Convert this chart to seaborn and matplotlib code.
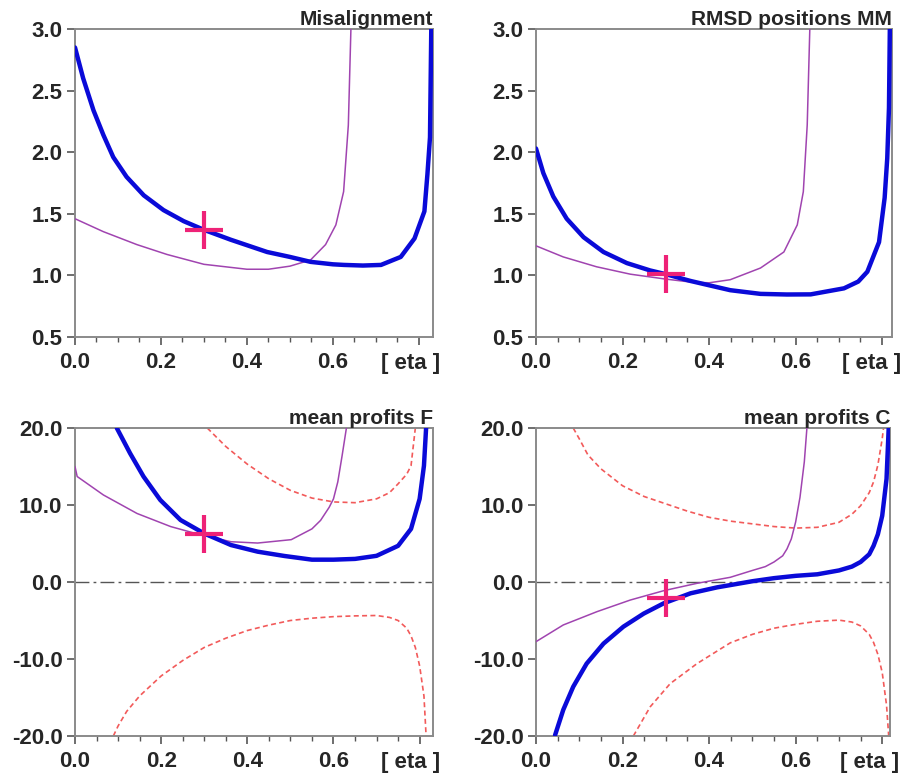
import matplotlib
matplotlib.use("Agg")
import matplotlib.pyplot as plt
import seaborn as sns
import pandas as pd
from matplotlib.ticker import MultipleLocator, FixedLocator, FixedFormatter, FormatStrFormatter

# ---- values ----------------------------------------------------------------
# panel 1: Misalignment
mis_blue_x = [0.0, 0.019, 0.043, 0.066, 0.089, 0.12, 0.16, 0.206, 0.253, 0.3, 0.362, 0.447, 0.5, 0.548, 0.6, 0.626, 0.67, 0.712, 0.758, 0.79, 0.813, 0.82, 0.826, 0.829]
mis_blue_y = [2.85, 2.60, 2.34, 2.14, 1.96, 1.80, 1.65, 1.53, 1.44, 1.37, 1.29, 1.19, 1.15, 1.11, 1.09, 1.085, 1.08, 1.085, 1.15, 1.30, 1.52, 1.82, 2.12, 3.0]
mis_purple_x = [0.0, 0.066, 0.144, 0.214, 0.3, 0.4, 0.45, 0.5, 0.548, 0.583, 0.607, 0.625, 0.636, 0.642]
mis_purple_y = [1.46, 1.355, 1.25, 1.17, 1.09, 1.05, 1.05, 1.075, 1.125, 1.25, 1.41, 1.68, 2.22, 3.0]

# panel 2: RMSD positions MM
rmsd_blue_x = [0.0, 0.017, 0.040, 0.071, 0.110, 0.156, 0.210, 0.264, 0.3, 0.357, 0.449, 0.519, 0.58, 0.635, 0.712, 0.745, 0.766, 0.793, 0.806, 0.812, 0.816, 0.818]
rmsd_blue_y = [2.03, 1.83, 1.64, 1.46, 1.31, 1.19, 1.10, 1.04, 1.01, 0.955, 0.88, 0.85, 0.845, 0.846, 0.895, 0.95, 1.03, 1.27, 1.63, 1.95, 2.36, 3.0]
rmsd_purple_x = [0.0, 0.063, 0.14, 0.218, 0.3, 0.36, 0.4, 0.449, 0.519, 0.573, 0.604, 0.618, 0.627, 0.633]
rmsd_purple_y = [1.24, 1.15, 1.07, 1.01, 0.97, 0.945, 0.94, 0.965, 1.06, 1.19, 1.41, 1.68, 2.22, 3.0]

# panel 3: mean profits F
pf_blue_x = [0.097, 0.128, 0.159, 0.198, 0.245, 0.3, 0.362, 0.424, 0.486, 0.55, 0.6, 0.65, 0.7, 0.75, 0.78, 0.8, 0.81, 0.815]
pf_blue_y = [20.0, 16.7, 13.7, 10.65, 8.05, 6.3, 4.8, 3.94, 3.38, 2.9, 2.9, 3.0, 3.4, 4.7, 6.9, 10.8, 15.1, 20.0]
pf_purple_x = [0.0, 0.005, 0.066, 0.144, 0.222, 0.284, 0.362, 0.424, 0.502, 0.55, 0.57, 0.59, 0.6, 0.61, 0.62, 0.63]
pf_purple_y = [15.0, 13.7, 11.3, 8.9, 7.2, 6.24, 5.23, 5.06, 5.5, 6.9, 8.0, 9.7, 10.8, 13.0, 16.4, 20.0]
pf_up_x = [0.307, 0.35, 0.4, 0.45, 0.5, 0.55, 0.6, 0.65, 0.7, 0.73, 0.75, 0.77, 0.78, 0.79]
pf_up_y = [20.0, 17.6, 15.3, 13.4, 11.9, 10.9, 10.4, 10.3, 10.8, 11.6, 12.75, 14.0, 15.1, 20.0]
pf_lo_x = [0.089, 0.1, 0.12, 0.15, 0.2, 0.25, 0.3, 0.35, 0.4, 0.45, 0.5, 0.55, 0.6, 0.65, 0.7, 0.73, 0.75, 0.77, 0.78, 0.79, 0.8, 0.81, 0.815]
pf_lo_y = [-20.0, -18.7, -16.8, -14.8, -12.2, -10.2, -8.5, -7.3, -6.3, -5.6, -5.0, -4.7, -4.5, -4.4, -4.35, -4.6, -5.0, -6.0, -7.0, -8.5, -10.9, -14.8, -20.0]

# panel 4: mean profits C
pc_blue_x = [0.044, 0.063, 0.086, 0.117, 0.156, 0.202, 0.249, 0.295, 0.357, 0.419, 0.45, 0.5, 0.55, 0.6, 0.65, 0.7, 0.73, 0.75, 0.77, 0.78, 0.79, 0.8, 0.81, 0.815]
pc_blue_y = [-19.9, -16.6, -13.6, -10.6, -8.0, -5.8, -4.1, -2.77, -1.47, -0.69, -0.39, 0.1, 0.5, 0.8, 1.0, 1.5, 2.0, 2.6, 3.6, 4.7, 6.2, 8.6, 13.4, 20.0]
pc_purple_x = [0.0, 0.063, 0.141, 0.218, 0.295, 0.372, 0.449, 0.5, 0.53, 0.55, 0.57, 0.58, 0.59, 0.6, 0.61, 0.62, 0.626]
pc_purple_y = [-7.75, -5.58, -3.85, -2.34, -1.13, -0.17, 0.61, 1.5, 2.0, 2.6, 3.4, 4.3, 5.6, 7.8, 11.0, 15.6, 20.0]
pc_up_x = [0.086, 0.1, 0.12, 0.15, 0.2, 0.25, 0.3, 0.35, 0.4, 0.45, 0.5, 0.55, 0.6, 0.65, 0.7, 0.73, 0.75, 0.77, 0.78, 0.79, 0.8, 0.803]
pc_up_y = [20.0, 18.6, 16.5, 14.7, 12.5, 11.1, 10.15, 9.2, 8.4, 7.9, 7.55, 7.2, 7.0, 7.1, 7.75, 8.8, 9.9, 11.6, 13.0, 15.2, 18.6, 20.0]
pc_lo_x = [0.225, 0.264, 0.31, 0.372, 0.449, 0.5, 0.55, 0.6, 0.65, 0.7, 0.73, 0.75, 0.77, 0.78, 0.79, 0.8, 0.81, 0.815]
pc_lo_y = [-20.0, -16.2, -13.2, -10.6, -7.9, -6.8, -6.0, -5.5, -5.1, -4.95, -5.2, -5.7, -6.8, -7.85, -9.4, -11.75, -16.0, -20.0]

titles = ["Misalignment", "RMSD positions MM", "mean profits F", "mean profits C"]
cross_x = [0.3, 0.3, 0.3, 0.3]
cross_y = [1.37, 1.01, 6.2, -2.1]
xticks = [0.0, 0.2, 0.4, 0.6, 0.8]
xticklabels = ["0.0", "0.2", "0.4", "0.6", ""]
xunit = "[ eta ]"
yticks_top = [0.5, 1.0, 1.5, 2.0, 2.5, 3.0]
yticks_bot = [-20.0, -10.0, 0.0, 10.0, 20.0]

BLUE = "#0a0ad8"
PURPLE = "#a044b0"
RED = "#f25a5a"
PINK = "#ee2277"

sns.set_style("white")
plt.rcParams["font.family"] = ["Liberation Sans", "DejaVu Sans"]
plt.rcParams["axes.unicode_minus"] = False

fig = plt.figure(figsize=(9.06, 7.78), dpi=100)
W, H = 906, 778
boxes = [(75, 433, 29, 337), (536, 892, 29, 337), (75, 433, 428, 736), (536, 890, 428, 736)]
xmaxes = [0.833, 0.823, 0.831, 0.818]
unit_shift = [7, 9, 7, 9]

panels = [
    [(mis_blue_x, mis_blue_y, "blue"), (mis_purple_x, mis_purple_y, "purple")],
    [(rmsd_blue_x, rmsd_blue_y, "blue"), (rmsd_purple_x, rmsd_purple_y, "purple")],
    [(pf_up_x, pf_up_y, "red"), (pf_lo_x, pf_lo_y, "red"),
     (pf_purple_x, pf_purple_y, "purple"), (pf_blue_x, pf_blue_y, "blue")],
    [(pc_up_x, pc_up_y, "red"), (pc_lo_x, pc_lo_y, "red"),
     (pc_purple_x, pc_purple_y, "purple"), (pc_blue_x, pc_blue_y, "blue")],
]

for i, (l, r, t, b) in enumerate(boxes):
    ax = fig.add_axes([l / W, 1 - b / H, (r - l) / W, (b - t) / H])
    bottom_row = i >= 2
    if bottom_row:
        ax.axhline(0, color="#555555", lw=1.0, dashes=(10, 3, 2, 3), zorder=1)
    for xs, ys, kind in panels[i]:
        df = pd.DataFrame({"eta": xs, "val": ys})
        if kind == "blue":
            sns.lineplot(data=df, x="eta", y="val", ax=ax, sort=False, estimator=None,
                         color=BLUE, lw=3.2, zorder=4)
        elif kind == "purple":
            sns.lineplot(data=df, x="eta", y="val", ax=ax, sort=False, estimator=None,
                         color=PURPLE, lw=1.1, zorder=3)
        else:
            sns.lineplot(data=df, x="eta", y="val", ax=ax, sort=False, estimator=None,
                         color=RED, lw=1.2, zorder=2).lines[-1].set_dashes((3, 2))
    ax.plot([cross_x[i]], [cross_y[i]], marker="+", ms=28, mew=3, color=PINK, zorder=5)

    ax.set_xlim(0, xmaxes[i])
    if bottom_row:
        ax.set_ylim(-20, 20)
        ax.set_yticks(yticks_bot)
    else:
        ax.set_ylim(0.5, 3.0)
        ax.set_yticks(yticks_top)
    ax.yaxis.set_major_formatter(FormatStrFormatter("%.1f"))
    ax.xaxis.set_major_locator(FixedLocator(xticks))
    ax.xaxis.set_major_formatter(FixedFormatter(xticklabels))
    ax.xaxis.set_minor_locator(MultipleLocator(0.05))
    ax.set_xlabel("")
    ax.set_ylabel("")
    ax.tick_params(axis="both", which="major", labelsize=16, length=6, width=1.2,
                   color="#555555", direction="out", pad=3)
    ax.tick_params(axis="x", which="minor", length=3.5, width=1.0, color="#555555",
                   direction="out", bottom=True)
    ax.tick_params(axis="x", which="major", pad=5)
    ax.tick_params(left=True, bottom=True)
    for lab in ax.get_xticklabels() + ax.get_yticklabels():
        lab.set_fontweight("bold")
    ax.annotate(xunit, xy=(1, 0), xycoords="axes fraction",
                xytext=(unit_shift[i], -16), textcoords="offset pixels",
                ha="right", va="top", fontsize=16, fontweight="bold")
    for sp in ax.spines.values():
        sp.set_color("#8a8a8a")
        sp.set_linewidth(1.4)
    ax.set_title(titles[i], loc="right", fontsize=15, fontweight="bold", pad=3)

fig.savefig("out.png", dpi=100)
